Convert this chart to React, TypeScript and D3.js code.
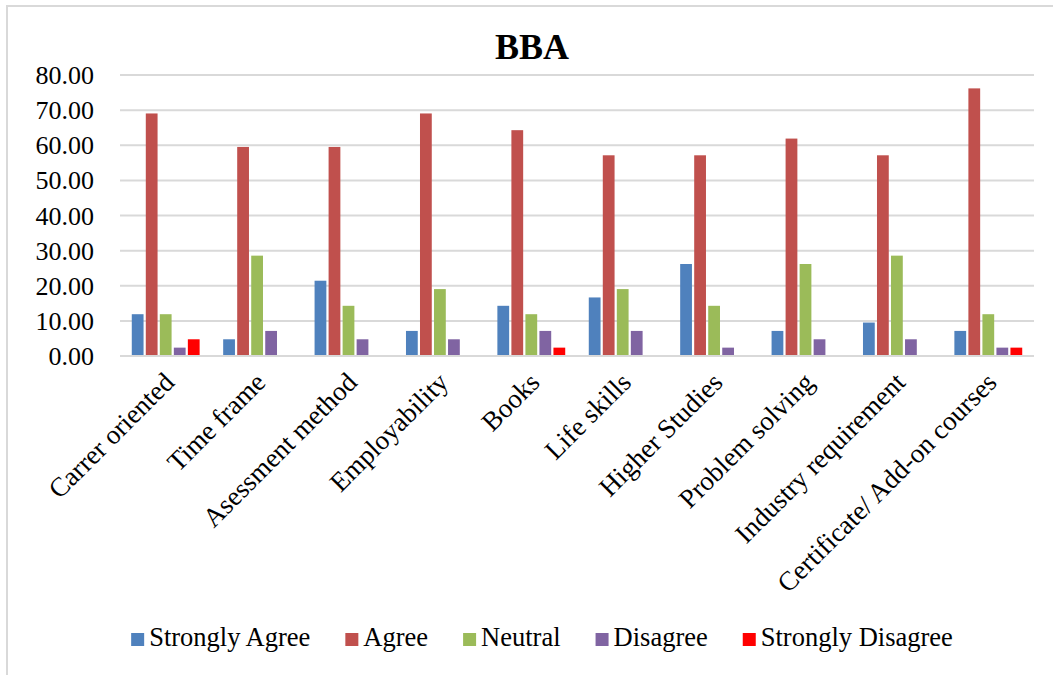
import React, { useEffect, useRef } from "react";
import * as d3 from "d3";

const categories = [
  "Carrer oriented",
  "Time frame",
  "Asessment method",
  "Employability",
  "Books",
  "Life skills",
  "Higher Studies",
  "Problem solving",
  "Industry requirement",
  "Certificate/ Add-on courses",
];
const seriesNames = ["Strongly Agree", "Agree", "Neutral", "Disagree", "Strongly Disagree"];
const stronglyAgree = [11.9, 4.76, 21.43, 7.14, 14.29, 16.67, 26.19, 7.14, 9.52, 7.14];
const agree = [69.05, 59.52, 59.52, 69.05, 64.29, 57.14, 57.14, 61.9, 57.14, 76.19];
const neutral = [11.9, 28.57, 14.29, 19.05, 11.9, 19.05, 14.29, 26.19, 28.57, 11.9];
const disagree = [2.38, 7.14, 4.76, 4.76, 7.14, 7.14, 2.38, 4.76, 4.76, 2.38];
const stronglyDisagree = [4.76, 0, 0, 0, 2.38, 0, 0, 0, 0, 2.38];
const yTicks = [0, 10, 20, 30, 40, 50, 60, 70, 80];
const colors = ["#4f81bd", "#c0504d", "#9bbb59", "#8064a2", "#ff0000"];

const W = 1053;
const H = 675;
const FONT = "'Liberation Serif', 'Times New Roman', serif";

export default function App() {
  const ref = useRef<SVGSVGElement | null>(null);

  useEffect(() => {
    const svg = d3.select(ref.current);
    svg.selectAll("*").remove();
    const series = [stronglyAgree, agree, neutral, disagree, stronglyDisagree];

    const left = 120, right = 1034, top = 75, bottom = 356;
    const x = d3.scaleBand<string>().domain(categories).range([left, right]).paddingInner(0).paddingOuter(0);
    const y = d3.scaleLinear().domain([0, 80]).range([bottom, top]);

    // chart border
    svg.append("rect").attr("x", 7).attr("y", 6).attr("width", W).attr("height", H + 20)
      .attr("fill", "white").attr("stroke", "#d9d9d9").attr("stroke-width", 2);

    // title
    svg.append("text").attr("x", 532).attr("y", 59).attr("text-anchor", "middle")
      .attr("font-family", FONT).attr("font-weight", "bold").attr("font-size", 36).text("BBA");

    // gridlines
    svg.append("g").selectAll("line").data(yTicks).join("line")
      .attr("x1", left).attr("x2", right)
      .attr("y1", (d) => y(d)).attr("y2", (d) => y(d))
      .attr("stroke", "#d9d9d9").attr("stroke-width", 2);

    // y labels
    svg.append("g").selectAll("text").data(yTicks).join("text")
      .attr("x", 94).attr("y", (d) => y(d) + 9)
      .attr("text-anchor", "end").attr("font-family", FONT).attr("font-size", 26)
      .text((d) => d.toFixed(2));

    // bars
    const inner = d3.scaleBand<number>().domain(d3.range(seriesNames.length))
      .range([0, x.bandwidth()]).paddingInner(0.16).paddingOuter(0.84);
    const g = svg.append("g");
    series.forEach((vals, si) => {
      g.append("g").selectAll("rect").data(vals).join("rect")
        .attr("x", (_d, i) => (x(categories[i]) as number) + (inner(si) as number))
        .attr("width", inner.bandwidth())
        .attr("y", (d) => y(d))
        .attr("height", (d) => bottom - y(d))
        .attr("fill", colors[si])
        .attr("opacity", (d) => (d > 0 ? 1 : 0));
    });

    // redraw axis line on top
    svg.append("line").attr("x1", left).attr("x2", right).attr("y1", bottom).attr("y2", bottom)
      .attr("stroke", "#d9d9d9").attr("stroke-width", 2);

    // category labels
    svg.append("g").selectAll("text").data(categories).join("text")
      .attr("transform", (d) => {
        const cx = (x(d) as number) + x.bandwidth() / 2 + 10;
        return `translate(${cx},${bottom + 28}) rotate(-45)`;
      })
      .attr("text-anchor", "end").attr("font-family", FONT).attr("font-size", 27)
      .text((d) => d);

    // legend
    const lg = svg.append("g");
    const items = lg.selectAll("g").data(seriesNames).join("g");
    items.append("rect").attr("width", 13).attr("height", 13).attr("y", -13)
      .attr("fill", (_d, i) => colors[i]);
    items.append("text").attr("x", 18).attr("y", 0).attr("font-family", FONT)
      .attr("font-size", 26.5).text((d) => d);
    let cursor = 0;
    const widths: number[] = [];
    items.each(function () {
      const t = d3.select(this).select("text").node() as SVGTextElement;
      widths.push(18 + t.getComputedTextLength());
    });
    const positions = widths.map((w) => { const p = cursor; cursor += w + 35; return p; });
    const total = cursor - 35;
    const startX = 542 - total / 2;
    items.attr("transform", (_d, i) => `translate(${startX + positions[i]},${646})`);
  }, []);

  return (
    <svg ref={ref} width={W} height={H}
      style={{ position: "absolute", left: 0, top: 0, background: "white" }} />
  );
}
